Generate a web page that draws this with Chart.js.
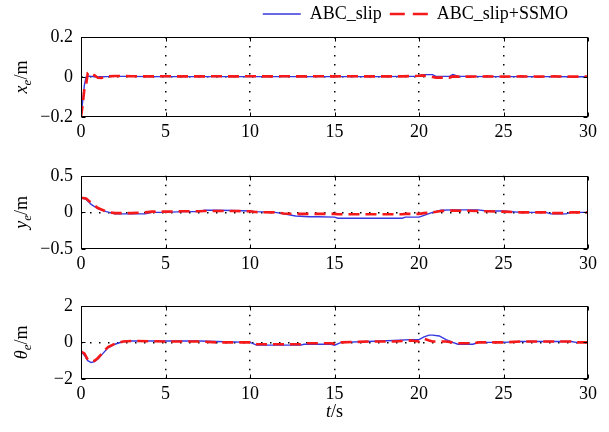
<!DOCTYPE html>
<html>
<head>
<meta charset="utf-8">
<script src="https://cdn.jsdelivr.net/npm/chart.js@4.4.1/dist/chart.umd.min.js"></script>
<style>
  html, body { margin: 0; padding: 0; background: #fff; }
  #wrap { position: relative; width: 609px; height: 432px; overflow: hidden; background: #fff; }
  #wrap canvas { position: absolute; left: 0; }
</style>
</head>
<body>
<div id="wrap">
  <canvas id="panelX" width="609" height="143" style="top:0px"></canvas>
  <canvas id="panelY" width="609" height="118" style="top:157px"></canvas>
  <canvas id="panelTheta" width="609" height="145" style="top:287px"></canvas>
</div>
<script>
// ---- data ----
const seriesNames = ['ABC_slip', 'ABC_slip+SSMO'];

// x tracking error
const tX = [0, 0.1, 0.2, 0.3, 0.4, 0.5, 0.6, 0.8, 1.0, 1.2, 1.5, 2, 3, 4, 5, 6, 7, 8, 9, 10,
            11, 12, 13, 14, 15, 16, 17, 18, 19, 20, 20.2, 20.8, 21.0, 21.8, 22.0, 22.3, 23, 24, 25, 26,
            27, 28, 29, 30];
const xeSlip = [-0.2, -0.12, -0.04, 0.0, 0.003, 0.004, 0.003, 0.001, 0.0, 0.001, 0.002, 0.003, 0.003, 0.002, 0.002, 0.002, 0.002, 0.002, 0.002, 0.002,
                0.002, 0.002, 0.002, 0.002, 0.002, 0.002, 0.002, 0.002, 0.003, 0.004, 0.012, 0.012, 0.003, 0.003, 0.012, 0.004, 0.003, 0.002, 0.002, 0.002,
                0.002, 0.002, 0.001, 0.001];
const xeSsmo = [-0.2, -0.14, -0.06, -0.04, 0.02, 0.024, 0.02, 0.008, -0.004, -0.005, 0.002, 0.005, 0.004, 0.003, 0.004, 0.003, 0.003, 0.004, 0.003, 0.004,
                0.003, 0.004, 0.003, 0.004, 0.003, 0.004, 0.003, 0.003, 0.003, 0.006, 0.008, 0.0, -0.003, -0.003, 0.003, 0.002, 0.002, 0.003, 0.002, 0.003,
                0.002, 0.003, 0.002, 0.002];

// y tracking error
const tY = [0, 0.3, 0.6, 1.0, 1.5, 2, 3, 3.8, 4.2, 5, 6, 7, 7.3, 8, 9, 10, 10.3, 11.5, 12, 12.7,
            13.5, 14, 15, 15.2, 17, 19, 19.2, 20, 20.3, 20.8, 21.3, 22, 23.5, 24, 25, 26, 27.5, 27.8, 28.7, 29,
            30];
const yeSlip = [0.2, 0.18, 0.11, 0.05, 0.01, -0.02, -0.02, -0.02, 0.0, 0.0, 0.01, 0.01, 0.03, 0.03, 0.025, 0.02, 0.01, 0.0, -0.02, -0.05,
                -0.06, -0.06, -0.065, -0.08, -0.08, -0.08, -0.065, -0.065, -0.04, 0.0, 0.03, 0.035, 0.035, 0.02, 0.02, 0.0, 0.0, -0.02, -0.02, 0.0,
                0.0];
const yeSsmo = [0.2, 0.19, 0.13, 0.06, 0.01, -0.01, -0.01, 0.0, 0.01, 0.01, 0.015, 0.015, 0.02, 0.02, 0.02, 0.015, 0.005, 0.0, -0.015, -0.02,
                -0.02, -0.02, -0.02, -0.025, -0.025, -0.025, -0.02, -0.02, -0.01, 0.0, 0.02, 0.025, 0.02, 0.015, 0.01, 0.0, 0.0, -0.01, -0.01, 0.0,
                0.0];

// heading error
const tTh = [0, 0.2, 0.4, 0.6, 0.8, 1.0, 1.3, 1.6, 2.0, 2.5, 3, 5, 7, 8, 10, 10.4, 13, 13.2, 14.8, 15,
             15.4, 17, 18.5, 19.5, 20, 20.3, 20.6, 20.8, 21.2, 21.6, 22, 22.3, 23.2, 23.5, 25, 26, 29, 29.3, 30];
const thSlip = [-0.5, -0.7, -1.0, -1.1, -1.05, -0.9, -0.6, -0.3, -0.1, 0.05, 0.08, 0.08, 0.08, 0.05, 0.0, -0.15, -0.15, -0.1, -0.1, -0.15,
                0.0, 0.05, 0.1, 0.15, 0.15, 0.3, 0.4, 0.4, 0.35, 0.15, 0.0, -0.1, -0.1, 0.0, 0.0, 0.05, 0.05, 0.0, 0.0];
const thSsmo = [-0.5, -0.6, -0.95, -1.05, -1.0, -0.85, -0.55, -0.25, -0.08, 0.05, 0.08, 0.05, 0.05, 0.0, 0.0, -0.1, -0.1, -0.05, -0.05, -0.08,
                0.0, 0.05, 0.05, 0.1, 0.05, 0.2, 0.1, 0.05, 0.05, 0.05, 0.0, -0.05, -0.05, 0.0, 0.0, 0.05, 0.05, 0.0, 0.0];

// axis ranges and ticks
const timeRange = [0, 30];
const timeStep = 5;
const xeRange = [-0.2, 0.2], xeStep = 0.2;
const yeRange = [-0.5, 0.5], yeStep = 0.5;
const thRange = [-2, 2], thStep = 2;

// ---- styling ----
const SERIF = '"Liberation Serif", "Times New Roman", serif';
Chart.defaults.font.family = SERIF;
Chart.defaults.font.size = 18;
Chart.defaults.color = '#000';

const BLUE = 'rgb(55, 55, 225)';
const RED = 'rgb(245, 25, 25)';
const RED_DASH = [11, 6];

function toPoints(t, v) {
  return t.map((x, i) => ({ x: x, y: v[i] }));
}

function fmtTick(v) {
  const n = Number(v.toFixed(3));
  if (n < 0) return '\u2212' + String(-n);
  return String(n);
}

// draws a run of differently styled text pieces centred on (cx, cy)
function drawRich(ctx, parts, cx, cy, rot) {
  ctx.save();
  ctx.translate(cx, cy);
  ctx.rotate(rot);
  ctx.textAlign = 'left';
  ctx.textBaseline = 'alphabetic';
  ctx.fillStyle = '#000';
  let total = 0;
  parts.forEach(p => { ctx.font = p.font; total += ctx.measureText(p.text).width; });
  let x = -total / 2;
  parts.forEach(p => {
    ctx.font = p.font;
    ctx.fillText(p.text, x, 6 + (p.dy || 0));
    x += ctx.measureText(p.text).width;
  });
  ctx.restore();
}

const IT = 'italic 18px ' + SERIF;
const SUB = 'italic 13px ' + SERIF;
const RM = '18px ' + SERIF;

// box around the plot area, inward tick marks and axis titles
const framePlugin = {
  id: 'frame',
  afterDatasetsDraw(chart, args, opts) {
    const { ctx, chartArea: a, scales } = chart;
    ctx.save();
    ctx.strokeStyle = '#000';
    ctx.lineWidth = 1;
    ctx.setLineDash([]);
    const L = Math.round(a.left) + 0.5, R = Math.round(a.right) - 0.5;
    const T = Math.round(a.top) + 0.5, B = Math.round(a.bottom) - 0.5;
    ctx.strokeRect(L, T, R - L, B - T);
    ctx.beginPath();
    scales.x.ticks.forEach(tk => {
      const px = Math.round(scales.x.getPixelForValue(tk.value)) + 0.5;
      ctx.moveTo(px, B); ctx.lineTo(px, B - 4);
      ctx.moveTo(px, T); ctx.lineTo(px, T + 4);
    });
    scales.y.ticks.forEach(tk => {
      const py = Math.round(scales.y.getPixelForValue(tk.value)) + 0.5;
      ctx.moveTo(L, py); ctx.lineTo(L + 4, py);
      ctx.moveTo(R, py); ctx.lineTo(R - 4, py);
    });
    ctx.stroke();
    ctx.restore();
  },
  afterDraw(chart, args, opts) {
    const { ctx, chartArea: a } = chart;
    if (opts.yTitle) {
      drawRich(ctx, opts.yTitle, 21, (a.top + a.bottom) / 2, -Math.PI / 2);
    }
    if (opts.xTitle) {
      drawRich(ctx, opts.xTitle, (a.left + a.right) / 2, opts.xTitleY, 0);
    }
  }
};

// nudges the legend row into the top-right corner above the plot
const legendNudge = {
  id: 'legendNudge',
  afterLayout(chart, args, opts) {
    const lg = chart.legend;
    if (!lg || !lg.options.display) return;
    lg.left -= opts.dx; lg.right -= opts.dx;
    lg.top -= opts.dy; lg.bottom -= opts.dy;
  }
};

// legend entries as line samples (solid blue, dashed red)
function lineLegendLabels(chart) {
  return chart.data.datasets.map((ds, i) => ({
    text: ds.label,
    datasetIndex: i,
    hidden: !chart.isDatasetVisible(i),
    fillStyle: ds.borderColor,
    strokeStyle: ds.borderColor,
    fontColor: '#000',
    lineWidth: ds.borderWidth,
    lineDash: ds.borderDash ? [15, 8] : [],
    lineCap: 'butt',
    pointStyle: 'line'
  }));
}

function makePanel(id, t, slip, ssmo, range, step, yTitle, cfg) {
  const xAxisHeight = cfg.xAxisHeight;
  return new Chart(document.getElementById(id), {
    type: 'line',
    data: {
      datasets: [
        {
          label: seriesNames[0],
          data: toPoints(t, slip),
          borderColor: BLUE,
          backgroundColor: BLUE,
          borderWidth: 1.4,
          pointRadius: 0,
          tension: 0,
          fill: false,
          order: 1
        },
        {
          label: seriesNames[1],
          data: toPoints(t, ssmo),
          borderColor: RED,
          backgroundColor: RED,
          borderWidth: 2.6,
          borderDash: RED_DASH,
          pointRadius: 0,
          tension: 0,
          fill: false,
          order: 0
        }
      ]
    },
    options: {
      responsive: false,
      animation: false,
      devicePixelRatio: 1,
      layout: { padding: { left: 0, right: 21, top: cfg.padTop, bottom: 0 } },
      scales: {
        x: {
          type: 'linear',
          min: timeRange[0],
          max: timeRange[1],
          ticks: { stepSize: timeStep, autoSkip: false, maxRotation: 0, padding: 4 },
          grid: {
            drawTicks: false,
            lineWidth: 1.5,
            color: c => (c.tick && c.tick.value > timeRange[0] && c.tick.value < timeRange[1]) ? '#000' : 'rgba(0,0,0,0)'
          },
          border: { display: false, dash: [1.5, 7.5] },
          afterFit: s => { s.height = xAxisHeight; }
        },
        y: {
          type: 'linear',
          min: range[0],
          max: range[1],
          ticks: { stepSize: step, autoSkip: false, padding: 8, callback: v => fmtTick(v) },
          grid: {
            drawTicks: false,
            lineWidth: 1.5,
            color: c => (c.tick && Math.abs(c.tick.value) < 1e-9) ? '#000' : 'rgba(0,0,0,0)'
          },
          border: { display: false, dash: [1.5, 7.5] },
          afterFit: s => { s.width = 81; }
        }
      },
      plugins: {
        legend: cfg.legend ? {
          display: true,
          position: 'top',
          align: 'end',
          labels: {
            usePointStyle: true,
            pointStyle: 'line',
            pointStyleWidth: 38,
            padding: 8,
            font: { size: 18, family: SERIF },
            color: '#000',
            generateLabels: lineLegendLabels
          }
        } : { display: false },
        legendNudge: { dx: 12, dy: 4 },
        tooltip: { enabled: false },
        frame: { yTitle: yTitle, xTitle: cfg.xTitle || null, xTitleY: cfg.xTitleY || 0 }
      }
    },
    plugins: [framePlugin, legendNudge]
  });
}

makePanel('panelX', tX, xeSlip, xeSsmo, xeRange, xeStep,
  [{ text: 'x', font: IT }, { text: 'e', font: SUB, dy: 4 }, { text: '/m', font: RM }],
  { legend: true, padTop: 1, xAxisHeight: 26 });

makePanel('panelY', tY, yeSlip, yeSsmo, yeRange, yeStep,
  [{ text: 'y', font: IT }, { text: 'e', font: SUB, dy: 4 }, { text: '/m', font: RM }],
  { legend: false, padTop: 12, xAxisHeight: 26 });

makePanel('panelTheta', tTh, thSlip, thSsmo, thRange, thStep,
  [{ text: '\u03B8', font: IT }, { text: 'e', font: SUB, dy: 4 }, { text: '/m', font: RM }],
  { legend: false, padTop: 12, xAxisHeight: 53,
    xTitle: [{ text: 't', font: IT }, { text: '/s', font: RM }], xTitleY: 124 });
</script>
</body>
</html>
